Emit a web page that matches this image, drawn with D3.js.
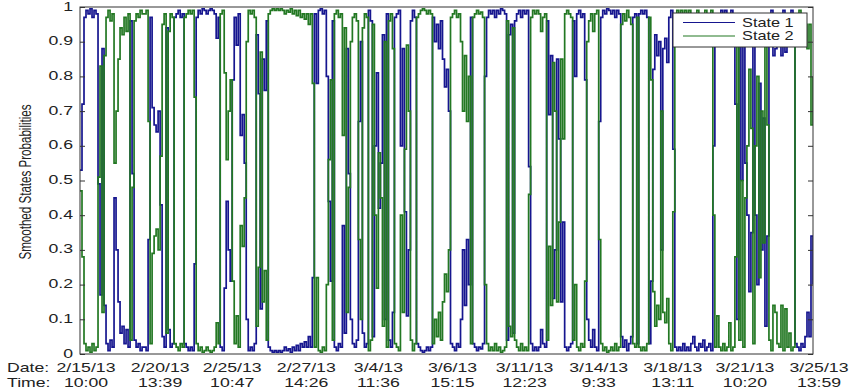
<!DOCTYPE html>
<html><head><meta charset="utf-8">
<script src="https://cdn.jsdelivr.net/npm/d3@7/dist/d3.min.js"></script>
<style>html,body{margin:0;padding:0;background:#fff;}svg{display:block;}</style>
</head><body>
<svg id="chart" width="851" height="391"></svg>
<script>
const state1 = [
0.53,0.72,0.97,0.99,0.98,0.995,0.97,0.99,0.98,0.49,
0.17,0.88,0.14,0.03,0.01,0.04,0.02,0.45,0.3,0.15,
0.06,0.08,0.03,0.07,0.02,0.96,0.52,0.04,0.02,0.03,
0.01,0.02,0.02,0.01,0.33,0.97,0.71,0.66,0.64,0.7,
0.43,0.05,0.02,0.94,0.07,0.02,0.03,0.97,0.98,0.99,
0.97,0.98,0.03,0.02,0.01,0.02,0.01,0.26,0.97,0.99,
0.98,0.995,0.99,0.98,0.99,0.995,0.99,0.98,0.91,0.97,
0.02,0.01,0.19,0.44,0.3,0.21,0.79,0.97,0.89,0.98,
0.63,0.69,0.55,0.1,0.01,0.02,0.01,0.03,0.92,0.75,
0.13,0.85,0.76,0.96,0.02,0.01,0.005,0.01,0.005,0.01,
0.005,0.01,0.02,0.01,0.015,0.005,0.02,0.01,0.025,0.01,
0.03,0.02,0.035,0.02,0.05,0.02,0.22,0.98,0.78,0.99,
0.995,0.98,0.99,0.8,0.44,0.21,0.96,0.02,0.01,0.03,
0.02,0.37,0.06,0.88,0.52,0.1,0.03,0.02,0.04,0.67,
0.9,0.06,0.02,0.03,0.99,0.96,0.05,0.6,0.81,0.42,
0.55,0.92,0.1,0.98,0.04,0.02,0.12,0.97,0.98,0.99,
0.6,0.88,0.41,0.11,0.3,0.96,0.99,0.97,0.03,0.02,
0.01,0.005,0.01,0.02,0.01,0.02,0.97,0.9,0.95,0.88,
0.96,0.85,0.77,0.82,0.7,0.03,0.02,0.01,0.03,0.02,
0.1,0.3,0.14,0.33,0.2,0.97,0.03,0.02,0.01,0.02,
0.015,0.03,0.8,0.97,0.99,0.98,0.99,0.97,0.99,0.98,
0.995,0.99,0.98,0.04,0.92,0.95,0.06,0.96,0.98,0.99,
0.97,0.99,0.98,0.99,0.54,0.03,0.01,0.02,0.01,0.02,
0.07,0.03,0.02,0.96,0.69,0.86,0.16,0.3,0.85,0.62,
0.15,0.38,0.02,0.01,0.02,0.03,0.96,0.8,0.98,0.99,
0.97,0.98,0.79,0.1,0.04,0.02,0.07,0.02,0.01,0.67,
0.97,0.99,0.98,0.995,0.99,0.98,0.99,0.97,0.99,0.98,
0.05,0.02,0.04,0.01,0.03,0.05,0.97,0.98,0.03,0.98,
0.99,0.98,0.99,0.97,0.03,0.21,0.82,0.92,0.86,0.9,
0.3,0.88,0.91,0.84,0.97,0.99,0.59,0.02,0.01,0.02,
0.01,0.03,0.01,0.02,0.01,0.03,0.05,0.02,0.01,0.03,
0.02,0.04,0.01,0.02,0.03,0.01,0.6,0.98,0.89,0.98,
0.99,0.97,0.99,0.98,0.91,0.99,0.98,0.72,0.1,0.96,
0.5,0.98,0.55,0.4,0.18,0.35,0.97,0.4,0.2,0.78,
0.3,0.68,0.08,0.34,0.96,0.99,0.86,0.88,0.97,0.98,
0.86,0.99,0.87,0.98,0.94,0.99,0.98,0.03,0.02,0.01,
0.03,0.02,0.05,0.12,0.05,0.34,0.2
];
const state2 = [
0.47,0.28,0.03,0.01,0.02,0.005,0.03,0.01,0.02,0.51,
0.83,0.12,0.86,0.97,0.99,0.96,0.98,0.55,0.7,0.85,
0.94,0.92,0.97,0.93,0.98,0.04,0.48,0.96,0.98,0.97,
0.99,0.98,0.98,0.99,0.67,0.03,0.29,0.34,0.36,0.3,
0.57,0.95,0.98,0.06,0.93,0.98,0.97,0.03,0.02,0.01,
0.03,0.02,0.97,0.98,0.99,0.98,0.99,0.74,0.03,0.01,
0.02,0.005,0.01,0.02,0.01,0.005,0.01,0.02,0.09,0.03,
0.98,0.99,0.81,0.56,0.7,0.79,0.21,0.03,0.11,0.02,
0.37,0.31,0.45,0.9,0.99,0.98,0.99,0.97,0.08,0.25,
0.87,0.15,0.24,0.04,0.98,0.99,0.995,0.99,0.995,0.99,
0.995,0.99,0.98,0.99,0.985,0.995,0.98,0.99,0.975,0.99,
0.97,0.98,0.965,0.98,0.95,0.98,0.78,0.02,0.22,0.01,
0.005,0.02,0.01,0.2,0.56,0.79,0.04,0.98,0.99,0.97,
0.98,0.63,0.94,0.12,0.48,0.9,0.97,0.98,0.96,0.33,
0.1,0.94,0.98,0.97,0.01,0.04,0.95,0.4,0.19,0.58,
0.45,0.08,0.9,0.02,0.96,0.98,0.88,0.03,0.02,0.01,
0.4,0.12,0.59,0.89,0.7,0.04,0.01,0.03,0.97,0.98,
0.99,0.995,0.99,0.98,0.99,0.98,0.03,0.1,0.05,0.12,
0.04,0.15,0.23,0.18,0.3,0.97,0.98,0.99,0.97,0.98,
0.9,0.7,0.86,0.67,0.8,0.03,0.97,0.98,0.99,0.98,
0.985,0.97,0.2,0.03,0.01,0.02,0.01,0.03,0.01,0.02,
0.005,0.01,0.02,0.96,0.08,0.05,0.94,0.04,0.02,0.01,
0.03,0.01,0.02,0.01,0.46,0.97,0.99,0.98,0.99,0.98,
0.93,0.97,0.98,0.04,0.31,0.14,0.84,0.7,0.15,0.38,
0.85,0.62,0.98,0.99,0.98,0.97,0.04,0.2,0.02,0.01,
0.03,0.02,0.21,0.9,0.96,0.98,0.93,0.98,0.99,0.33,
0.03,0.01,0.02,0.005,0.01,0.02,0.01,0.03,0.01,0.02,
0.95,0.98,0.96,0.99,0.97,0.95,0.03,0.02,0.97,0.02,
0.01,0.02,0.01,0.03,0.97,0.79,0.18,0.08,0.14,0.1,
0.7,0.12,0.09,0.16,0.03,0.01,0.41,0.98,0.99,0.98,
0.99,0.97,0.99,0.98,0.99,0.97,0.95,0.98,0.99,0.97,
0.98,0.96,0.99,0.98,0.97,0.99,0.4,0.02,0.11,0.02,
0.01,0.03,0.01,0.02,0.09,0.01,0.02,0.28,0.9,0.04,
0.5,0.02,0.45,0.6,0.82,0.65,0.03,0.6,0.8,0.22,
0.7,0.32,0.92,0.66,0.04,0.01,0.14,0.12,0.03,0.02,
0.14,0.01,0.13,0.02,0.06,0.01,0.02,0.97,0.98,0.99,
0.97,0.98,0.95,0.88,0.95,0.66,0.8
];
const tickIndex = [3, 40, 76, 113, 149, 186, 222, 259, 296, 332, 369];
const dateLabels = ["2/15/13","2/20/13","2/25/13","2/27/13","3/4/13","3/6/13","3/11/13","3/14/13","3/18/13","3/21/13","3/25/13"];
const timeLabels = ["10:00","13:39","10:47","14:26","11:36","15:15","12:23","9:33","13:11","10:20","13:59"];
const yTicks = [0,0.1,0.2,0.3,0.4,0.5,0.6,0.7,0.8,0.9,1];
const yTickLabels = ["0","0.1","0.2","0.3","0.4","0.5","0.6","0.7","0.8","0.9","1"];
const seriesNames = ["State 1","State 2"];
const seriesColors = ["#16168f","#237823"];

const svg = d3.select("#chart");
const L = 80, R = 813, T = 7, B = 354;
const SX = 1.36;
const FONT = "'Liberation Sans', Arial, sans-serif";
const x = d3.scaleLinear().domain([0, state1.length - 1]).range([L, R]);
const y = d3.scaleLinear().domain([0, 1]).range([B, T]);

svg.append("rect").attr("x",0).attr("y",0).attr("width",851).attr("height",391).attr("fill","#fff");

svg.append("clipPath").attr("id","pc").append("rect")
  .attr("x",L).attr("y",T-1).attr("width",R-L).attr("height",B-T+2);

const line = d3.line().x((d,i)=>x(i)).y(d=>y(d)).curve(d3.curveStepAfter);
const plot = svg.append("g").attr("clip-path","url(#pc)");
[state1, state2].forEach((s,k)=>{
  plot.append("path").datum(s).attr("d",line).attr("fill","none")
    .attr("stroke",seriesColors[k]).attr("stroke-width",1.7).attr("stroke-linejoin","miter");
});

svg.append("g").attr("transform",`translate(${L},0)`)
  .call(d3.axisLeft(y).tickValues(yTicks).tickSize(-5).tickFormat(""))
  .call(g=>{g.select(".domain").remove(); g.selectAll("line").attr("stroke","#333");});
svg.append("g").attr("transform",`translate(${R},0)`)
  .call(d3.axisRight(y).tickValues(yTicks).tickSize(-5).tickFormat(""))
  .call(g=>{g.select(".domain").remove(); g.selectAll("line").attr("stroke","#333");});

svg.append("rect").attr("x",L).attr("y",T).attr("width",R-L).attr("height",B-T)
  .attr("fill","none").attr("stroke","#333").attr("stroke-width",1);

function stretchedText(px, py, txt, anchor, size){
  return svg.append("text").attr("transform",`translate(${px},${py}) scale(${SX},1)`)
    .attr("text-anchor",anchor).attr("font-family",FONT).attr("font-size",size)
    .attr("fill","#222").text(txt);
}

yTicks.forEach((v,i)=>stretchedText(73, y(v)+3.5, yTickLabels[i], "end", 13));

tickIndex.forEach((t,i)=>{
  stretchedText(x(t), 372, dateLabels[i], "middle", 13);
  stretchedText(x(t), 386.5, timeLabels[i], "middle", 13);
});
stretchedText(7, 372, "Date:", "start", 13);
stretchedText(7, 386.5, "Time:", "start", 13);

svg.append("text").attr("transform",`translate(31,182) scale(${SX},1) rotate(-90)`)
  .attr("text-anchor","middle").attr("font-family",FONT).attr("font-size",11.6)
  .attr("fill","#222").text("Smoothed States Probabilities");

const lg = svg.append("g");
lg.append("rect").attr("x",673).attr("y",13).attr("width",134).attr("height",34)
  .attr("fill","#fff").attr("stroke","#333").attr("stroke-width",1);
seriesNames.forEach((n,k)=>{
  const ly = 22.5 + k*13.5;
  lg.append("line").attr("x1",683).attr("x2",735).attr("y1",ly).attr("y2",ly)
    .attr("stroke",seriesColors[k]).attr("stroke-width",1.2);
  stretchedText(742, ly+4, n, "start", 12);
});
</script>
</body></html>
